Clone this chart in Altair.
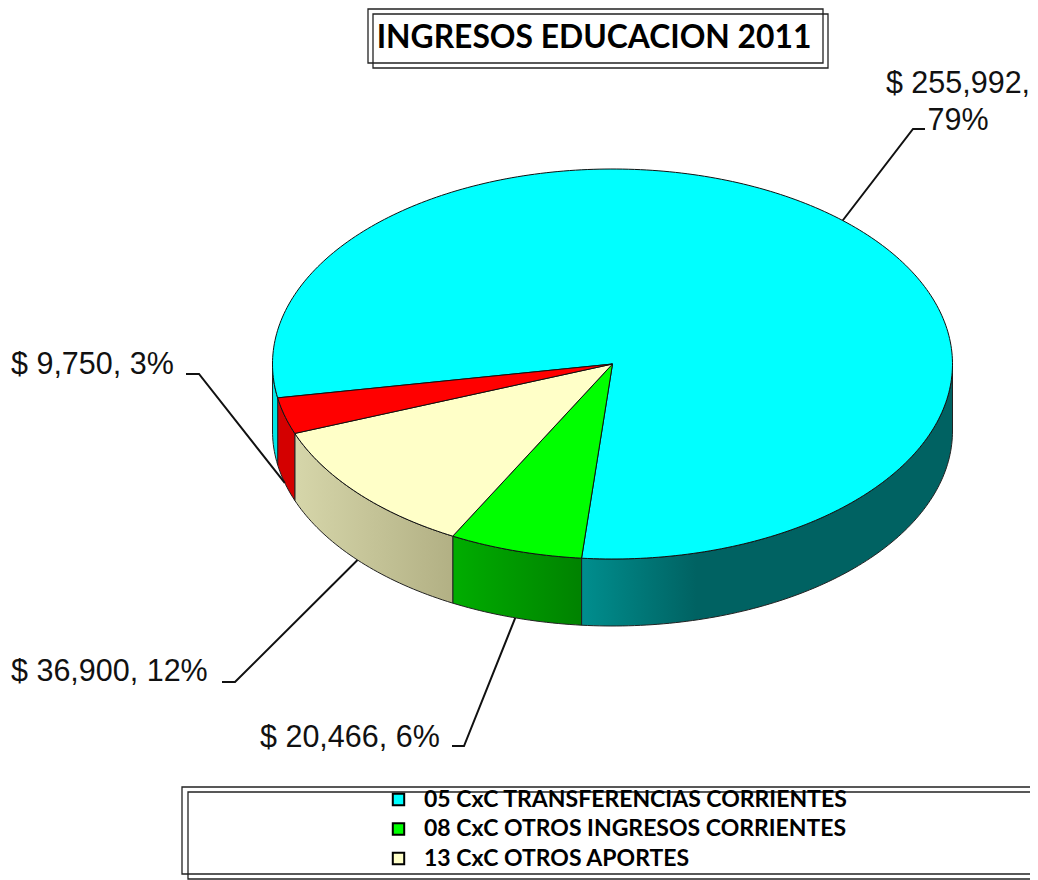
import math
import altair as alt
import pandas as pd

# ---- chart values ----
categories = ["05 CxC TRANSFERENCIAS CORRIENTES", "08 CxC OTROS INGRESOS CORRIENTES",
              "13 CxC OTROS APORTES", "Otros"]
amounts = [255992, 20466, 36900, 9750]
label_texts = ["$ 255,992,\n79%", "$ 20,466, 6%", "$ 36,900, 12%", "$ 9,750, 3%"]
top_colors = ["#00ffff", "#00ff00", "#ffffc8", "#ff0000"]
title_text = "INGRESOS EDUCACION 2011"

# ---- layout of the tilted pie ----
CX, CY, RX, RY, DEPTH = 612.5, 364, 340, 195, 67
START = 260
W, H = 1022, 872
sx = alt.Scale(domain=[8, 8 + W], nice=False, zero=False)
sy = alt.Scale(domain=[8 + H, 8], nice=False, zero=False)
X = alt.X("x:Q", scale=sx, axis=None)
Y = alt.Y("y:Q", scale=sy, axis=None)


def rim(a, drop=0.0):
    r = math.radians(a)
    return CX + RX * math.sin(r), CY - RY * math.cos(r) + drop


def sweep(a0, a1):
    n = max(2, int(abs(a1 - a0)) + 2)
    return [a0 + (a1 - a0) * k / (n - 1) for k in range(n)]


total = sum(amounts)
edges = [START]
for v in amounts:
    edges.append(edges[-1] + v / total * 360)

# top faces
rows = []
for c, a0, a1 in zip(categories, edges, edges[1:]):
    pts = [(CX, CY)] + [rim(a) for a in sweep(a0, a1)]
    rows += [{"cat": c, "i": i, "x": p[0], "y": p[1]} for i, p in enumerate(pts)]
top = (
    alt.Chart(pd.DataFrame(rows))
    .mark_line(interpolate="linear-closed", stroke="#111111", strokeWidth=1, clip=True)
    .encode(
        x=X, y=Y, order=alt.Order("i:Q"),
        fill=alt.Fill(
            "cat:N",
            scale=alt.Scale(domain=categories, range=top_colors),
            legend=alt.Legend(
                title=None, orient="none", legendX=379, legendY=780, values=categories[:3],
                symbolType="square", symbolSize=130, symbolStrokeColor="black",
                symbolStrokeWidth=2, labelFont="Lato", labelFontWeight="bold",
                labelFontSize=23, labelColor="black", labelLimit=700, rowPadding=5.5,
                labelOffset=14, padding=0,
            ),
        ),
    )
)


def grad(stops):
    return {"gradient": "linear", "x1": 0, "x2": 1, "y1": 0, "y2": 0,
            "stops": [{"offset": o, "color": c} for o, c in stops]}


# side walls: only the part of the rim that faces the viewer
walls = [
    (90, edges[1] - 360, grad([(0, "#008e8e"), (0.31, "#006262"), (1, "#006262")])),
    (edges[1] - 360, edges[2] - 360, grad([(0, "#00ad00"), (1, "#008200")])),
    (edges[2] - 360, edges[3] - 360, grad([(0, "#d6d6aa"), (1, "#b2b084")])),
    (edges[3] - 360, edges[4] - 360, "#d40000"),
    (edges[4] - 360, 270, "#00e6e6"),
]
wall_layers = []
for a0, a1, paint in walls:
    arc = sweep(a0, a1)
    pts = [rim(a) for a in arc] + [rim(a, DEPTH) for a in reversed(arc)]
    wall_layers.append(
        alt.Chart(pd.DataFrame([{"i": i, "x": p[0], "y": p[1]} for i, p in enumerate(pts)]))
        .mark_line(interpolate="linear-closed", stroke="#222222", strokeWidth=1, fill=paint)
        .encode(x=X, y=Y, order=alt.Order("i:Q"))
    )

# leader lines: inner end sits on the middle of each slice's visible rim
elbows = [[(913, 129), (925, 129)], [(464, 746), (452, 746)],
          [(235, 682), (222, 682)], [(199, 374), (186, 374)]]
rows = []
for k, (a0, a1, el) in enumerate(zip(edges, edges[1:], elbows)):
    mid = ((a0 + a1) / 2) % 360
    drop = DEPTH if 90 < mid < 270 else 0
    pts = [rim(mid, drop)] + el
    rows += [{"k": k, "i": i, "x": p[0], "y": p[1]} for i, p in enumerate(pts)]
leaders = (
    alt.Chart(pd.DataFrame(rows))
    .mark_line(stroke="#111111", strokeWidth=2)
    .encode(x=X, y=Y, detail="k:N", order=alt.Order("i:Q"))
)

# data labels
label_df = pd.DataFrame({
    "t": label_texts,
    "x": [958, 260, 11, 11],
    "y": [93, 747, 681, 374],
    "al": ["center", "left", "left", "left"],
})
labels = []
for al, part in label_df.groupby("al"):
    labels.append(
        alt.Chart(part)
        .mark_text(align=al, baseline="alphabetic", font="Liberation Sans", fontSize=30.5,
                   color="#111111", lineBreak="\n", lineHeight=37)
        .encode(x=X, y=Y, text="t:N")
    )

# title and double frames
frames = pd.DataFrame({
    "x": [368, 373, 182, 188],
    "x2": [823, 828, 1070, 1070],
    "y": [9, 14, 787, 792],
    "y2": [63, 68, 874, 879],
})
frame = (
    alt.Chart(frames)
    .mark_rect(fill="transparent", stroke="#222222", strokeWidth=1.3, clip=True)
    .encode(x=X, x2="x2:Q", y=Y, y2="y2:Q")
)
title = (
    alt.Chart(pd.DataFrame({"t": [title_text], "x": [594], "y": [48]}))
    .mark_text(align="center", baseline="alphabetic", font="Lato", fontWeight="bold",
               fontSize=31.8, color="black")
    .encode(x=X, y=Y, text="t:N")
)

chart = (
    alt.layer(frame, title, *wall_layers, top, leaders, *labels)
    .properties(width=W, height=H, padding=0, autosize=alt.AutoSizeParams(type="none"),
                background="white")
    .configure_view(stroke=None)
)
chart.save("out.html", embed_options={"renderer": "svg", "actions": False})
